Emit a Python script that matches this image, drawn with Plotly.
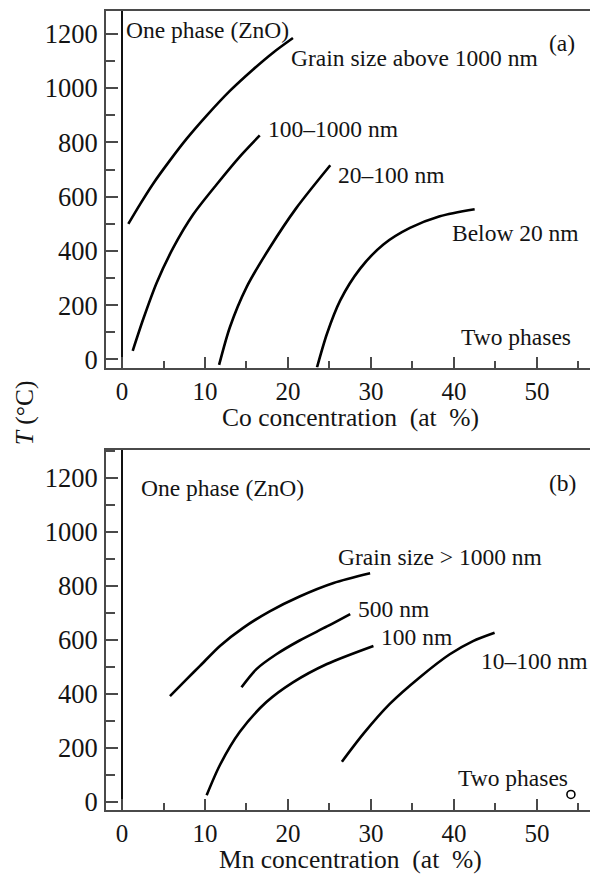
import plotly.graph_objects as go

# ---- Panel (a): Co-doped ZnO solubility limits vs grain size ----
a_gt1000_x = [0.76, 2.17, 3.77, 5.78, 7.8, 10.2, 13.0, 15.8, 18.2, 20.6]
a_gt1000_y = [500, 572, 649, 734, 814, 899, 990, 1069, 1131, 1185]
a_100_1000_x = [1.29, 2.57, 4.18, 6.18, 8.59, 11.4, 14.2, 16.6]
a_100_1000_y = [32, 150, 283, 412, 535, 645, 748, 826]
a_20_100_x = [11.7, 13.0, 15.0, 17.8, 21.0, 25.1]
a_20_100_y = [-20, 119, 266, 412, 558, 716]
a_lt20_x = [23.5, 24.7, 26.3, 28.7, 31.5, 34.7, 38.3, 42.5]
a_lt20_y = [-29, 95, 218, 335, 424, 485, 528, 554]

# ---- Panel (b): Mn-doped ZnO ----
b_gt1000_x = [5.78, 7.8, 9.4, 11.8, 14.6, 17.8, 21.4, 25.5, 29.9]
b_gt1000_y = [392, 455, 504, 578, 645, 706, 761, 811, 847]
b_500_x = [14.4, 16.2, 18.6, 21.4, 24.7, 27.5]
b_500_y = [425, 492, 547, 598, 650, 696]
b_100_x = [10.2, 11.8, 14.2, 17.4, 20.6, 24.7, 30.3]
b_100_y = [25, 137, 260, 370, 443, 511, 578]
b_10_100_x = [26.5, 29.1, 32.3, 35.9, 39.5, 42.3, 44.9]
b_10_100_y = [149, 253, 364, 462, 547, 596, 627]
b_point_x = [54.1]
b_point_y = [28]

x_ticks = [0, 10, 20, 30, 40, 50]
y_ticks = [0, 200, 400, 600, 800, 1000, 1200]

FONT = "Times New Roman, Liberation Serif, Nimbus Roman, DejaVu Serif, serif"
INK = "#141414"
FRAME = "#4a4a4a"

W, H = 590, 878

fig = go.Figure()

curve = dict(mode="lines",
             line=dict(color="black", width=2.6, shape="spline", smoothing=0.8),
             showlegend=False, hoverinfo="skip")

for xs, ys in [(a_gt1000_x, a_gt1000_y), (a_100_1000_x, a_100_1000_y),
               (a_20_100_x, a_20_100_y), (a_lt20_x, a_lt20_y)]:
    fig.add_trace(go.Scatter(x=xs, y=ys, xaxis="x", yaxis="y", **curve))

for xs, ys in [(b_gt1000_x, b_gt1000_y), (b_500_x, b_500_y),
               (b_100_x, b_100_y), (b_10_100_x, b_10_100_y)]:
    fig.add_trace(go.Scatter(x=xs, y=ys, xaxis="x2", yaxis="y2", **curve))

fig.add_trace(go.Scatter(x=b_point_x, y=b_point_y, xaxis="x2", yaxis="y2",
                         mode="markers", showlegend=False, hoverinfo="skip",
                         marker=dict(symbol="circle-open", size=8,
                                     color="black", line=dict(width=1.6))))


def xaxis(domain_anchor):
    return dict(
        anchor=domain_anchor, range=[-1.93, 56.4], domain=[106 / W, 1.0],
        tickmode="array", tickvals=x_ticks, ticks="inside", ticklen=11,
        tickwidth=2, tickcolor=FRAME,
        minor=dict(dtick=5, tick0=0, ticks="inside", ticklen=7,
                   tickwidth=2, tickcolor=FRAME),
        showline=True, linecolor=FRAME, linewidth=2, mirror=True,
        showgrid=False, zeroline=True, zerolinecolor="#111111",
        zerolinewidth=1.6,
        tickfont=dict(family=FONT, size=25, color=INK),
        fixedrange=True,
    )


def yaxis(domain_anchor, rng, dom):
    return dict(
        anchor=domain_anchor, range=rng, domain=dom,
        tickmode="array", tickvals=y_ticks, ticks="inside", ticklen=12,
        tickwidth=2, tickcolor=FRAME,
        minor=dict(dtick=100, tick0=0, ticks="inside", ticklen=9,
                   tickwidth=2, tickcolor=FRAME),
        showline=True, linecolor=FRAME, linewidth=2, mirror=False,
        showgrid=False, zeroline=False,
        tickfont=dict(family=FONT, size=26.5, color=INK),
        ticklabelstandoff=1, fixedrange=True,
    )


fig.update_layout(
    width=W, height=H,
    margin=dict(l=0, r=0, t=0, b=0),
    paper_bgcolor="white", plot_bgcolor="white",
    font=dict(family=FONT, color=INK),
    xaxis=xaxis("y"),
    yaxis=yaxis("x", [-30, 1285], [1 - 371 / H, 1 - 11 / H]),
    xaxis2=xaxis("y2"),
    yaxis2=yaxis("x2", [-28, 1304], [1 - 817 / H, 1 - 454 / H]),
)

ann_font = dict(family=FONT, size=23.5, color=INK)

panel_a_labels = [
    ("One phase (ZnO)", 0.36, 1216),
    ("Grain size above 1000 nm", 20.2, 1113),
    ("(a)", 51.3, 1168),
    ("100\u20131000 nm", 17.5, 850),
    ("20\u2013100 nm", 25.9, 679),
    ("Below 20 nm", 39.7, 467),
    ("Two phases", 40.7, 83),
]
panel_b_labels = [
    ("One phase (ZnO)", 2.17, 1161),
    ("(b)", 51.3, 1183),
    ("Grain size &gt; 1000 nm", 25.9, 907),
    ("500 nm", 28.3, 713),
    ("100 nm", 31.1, 610),
    ("10\u2013100 nm", 43.1, 522),
    ("Two phases", 40.4, 88),
]

annotations = []
for text, x, y in panel_a_labels:
    annotations.append(dict(text=text, x=x, y=y, xref="x", yref="y",
                            xanchor="left", yanchor="middle",
                            showarrow=False, font=ann_font, borderpad=0))
for text, x, y in panel_b_labels:
    annotations.append(dict(text=text, x=x, y=y, xref="x2", yref="y2",
                            xanchor="left", yanchor="middle",
                            showarrow=False, font=ann_font, borderpad=0))

title_font = dict(family=FONT, size=25.5, color=INK)
sp = "\u00a0"
annotations += [
    dict(text=f"Co concentration{sp}{sp}(at{sp}{sp}%)", x=351 / W, y=1 - 421 / H,
         xref="paper", yref="paper", xanchor="center", yanchor="middle",
         showarrow=False, font=title_font),
    dict(text=f"Mn concentration{sp}{sp}(at{sp}{sp}%)", x=350 / W, y=1 - 867 / H,
         xref="paper", yref="paper", xanchor="center", yanchor="middle",
         showarrow=False, font=title_font),
    dict(text="<i>T</i> (°C)", x=24 / W, y=1 - 417 / H, textangle=-90,
         xref="paper", yref="paper", xanchor="center", yanchor="middle",
         showarrow=False, font=title_font),
]
fig.update_layout(annotations=annotations)

fig.write_html("out.html")
